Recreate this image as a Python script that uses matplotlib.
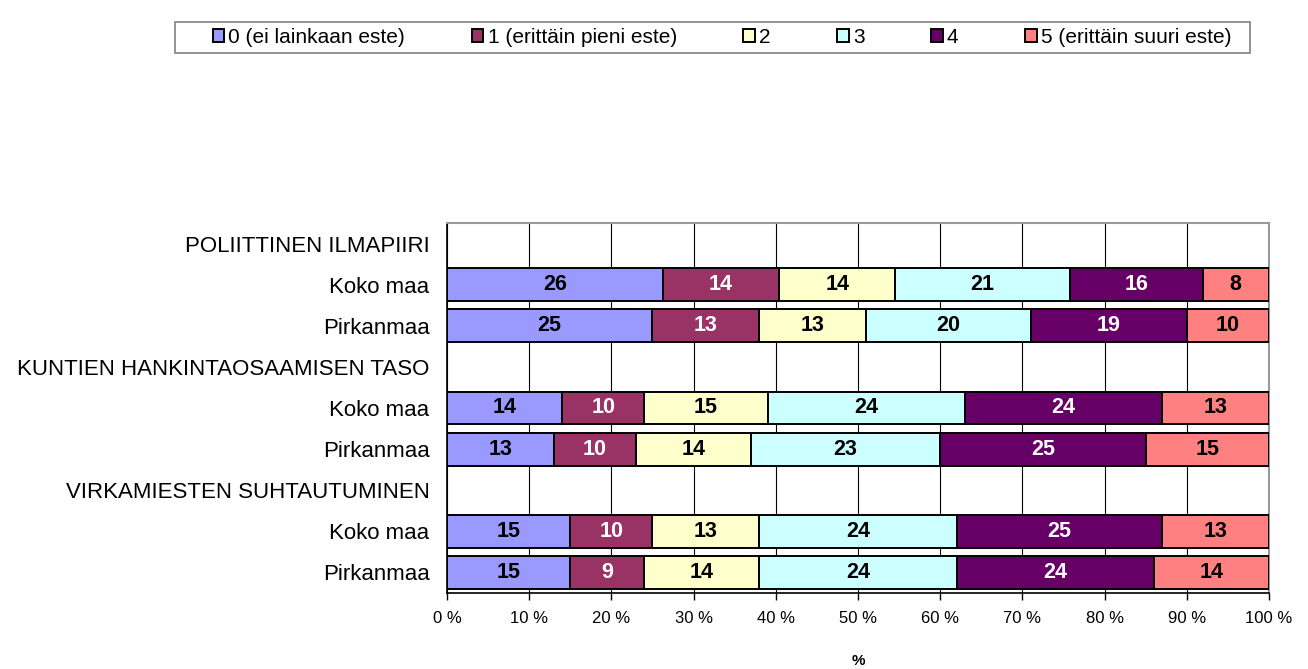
import matplotlib.pyplot as plt
import numpy as np
from matplotlib.patches import Rectangle

plt.rcParams['font.family'] = ['Liberation Sans', 'DejaVu Sans']

# Row labels, top to bottom (group headers have no bar)
rows = ['POLIITTINEN ILMAPIIRI', 'Koko maa', 'Pirkanmaa',
        'KUNTIEN HANKINTAOSAAMISEN TASO', 'Koko maa', 'Pirkanmaa',
        'VIRKAMIESTEN SUHTAUTUMINEN', 'Koko maa', 'Pirkanmaa']

series_names = ['0 (ei lainkaan este)', '1 (erittäin pieni este)', '2', '3', '4',
                '5 (erittäin suuri este)']

# shares per answer level (percent), nan for header rows
s0 = [np.nan, 26, 25, np.nan, 14, 13, np.nan, 15, 15]
s1 = [np.nan, 14, 13, np.nan, 10, 10, np.nan, 10, 9]
s2 = [np.nan, 14, 13, np.nan, 15, 14, np.nan, 13, 14]
s3 = [np.nan, 21, 20, np.nan, 24, 23, np.nan, 24, 24]
s4 = [np.nan, 16, 19, np.nan, 24, 25, np.nan, 25, 24]
s5 = [np.nan, 8, 10, np.nan, 13, 15, np.nan, 13, 14]

colors = ['#9999FF', '#993366', '#FFFFCC', '#CCFFFF', '#660066', '#FF8080']
text_colors = ['black', 'white', 'black', 'black', 'white', 'black']

vals = np.array([s0, s1, s2, s3, s4, s5], dtype=float)
totals = np.nansum(vals, axis=0)
totals[totals == 0] = 1
shares = vals / totals * 100  # 100 % stacked, like the original

fig = plt.figure(figsize=(13.08, 6.69), dpi=100)
ax = fig.add_axes([0.3417, 0.1136, 0.6285, 0.5531])

y = np.arange(len(rows))
left = np.zeros(len(rows))
handles = []
for i in range(6):
    w = np.nan_to_num(shares[i])
    b = ax.barh(y, w, left=left, height=0.8, color=colors[i], edgecolor='black',
                linewidth=1.4, label=series_names[i], zorder=3)
    handles.append(b)
    for j in range(len(rows)):
        if not np.isnan(vals[i, j]):
            ax.text(left[j] + w[j] / 2, y[j], f'{int(vals[i, j])}', ha='center', va='center',
                    fontsize=15.5, fontweight='bold', color=text_colors[i], zorder=4)
    left += w

ax.set_xlim(0, 100)
ax.set_ylim(len(rows) - 0.5, -0.5)
ax.set_xticks(np.arange(0, 101, 10))
ax.set_xticklabels([f'{t} %' for t in range(0, 101, 10)], fontsize=12)
ax.set_yticks(y)
ax.set_yticklabels(rows, fontsize=16)
ax.tick_params(axis='y', length=0, pad=12.5)
ax.tick_params(axis='x', direction='out', length=5, width=1, pad=8)
ax.grid(axis='x', color='black', linewidth=0.8, zorder=0)
for s in ['top', 'right']:
    ax.spines[s].set_color('#999999')
    ax.spines[s].set_linewidth(1.5)
for s in ['left', 'bottom']:
    ax.spines[s].set_color('black')
    ax.spines[s].set_linewidth(1.2)

ax.set_xlabel('%', fontsize=11, fontweight='bold', va='center')
ax.xaxis.set_label_coords(0.5, -0.184)

# legend box drawn separately (the original has more room on the left than right)
fig.patches.append(Rectangle((175 / 1308, 1 - 53 / 669), 1075 / 1308, 31 / 669,
                             transform=fig.transFigure, facecolor='white',
                             edgecolor='#808080', linewidth=1.2))
fig.legend(handles=handles, loc='center', bbox_to_anchor=(0.552, 0.944), ncol=6,
           fontsize=15, frameon=False,
           handlelength=0.55, handleheight=0.55, handletextpad=0.2,
           columnspacing=3.2, borderpad=0.3)

plt.savefig('out.png', dpi=100)
